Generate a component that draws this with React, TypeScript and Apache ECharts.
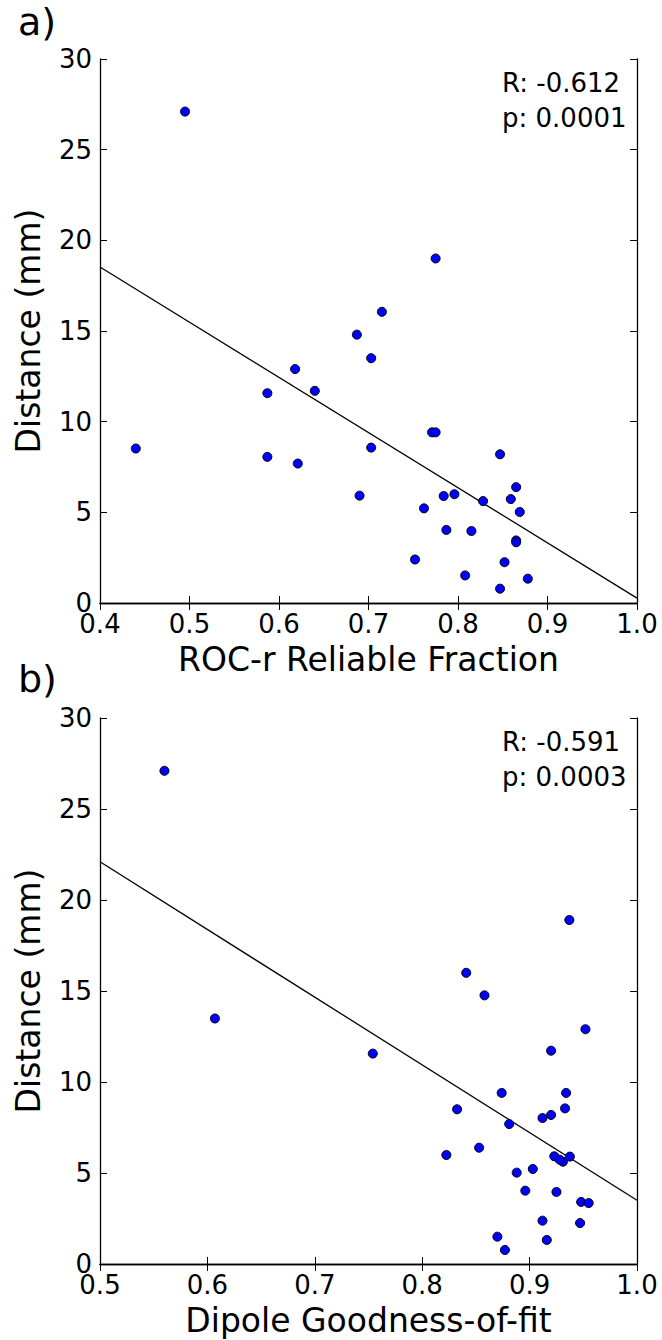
import React, { useEffect, useRef } from "react";
import * as echarts from "echarts";

// Panel a: ROC-r Reliable Fraction vs Distance (mm)
const rocX = [0.495, 0.775, 0.715, 0.687, 0.703, 0.618, 0.64, 0.587, 0.771, 0.775, 0.44, 0.703, 0.587, 0.621, 0.847, 0.865, 0.69, 0.784, 0.796, 0.859, 0.828, 0.762, 0.869, 0.787, 0.815, 0.865, 0.865, 0.752, 0.852, 0.808, 0.878, 0.847];
const rocY = [27.1, 19.0, 16.06, 14.8, 13.5, 12.9, 11.7, 11.57, 9.41, 9.41, 8.52, 8.57, 8.06, 7.69, 8.2, 6.39, 5.92, 5.9, 6.0, 5.73, 5.62, 5.22, 5.02, 4.03, 3.97, 3.45, 3.35, 2.4, 2.25, 1.52, 1.34, 0.79];
const rocFitX = [0.4, 1.0];
const rocFitY = [18.53, 0.27];

// Panel b: Dipole Goodness-of-fit vs Distance (mm)
const gofX = [0.56, 0.937, 0.841, 0.858, 0.607, 0.952, 0.754, 0.92, 0.874, 0.934, 0.8325, 0.933, 0.912, 0.92, 0.881, 0.853, 0.8225, 0.923, 0.931, 0.9375, 0.928, 0.903, 0.888, 0.896, 0.925, 0.948, 0.955, 0.912, 0.947, 0.87, 0.916, 0.877];
const gofY = [27.1, 18.9, 16.0, 14.76, 13.49, 12.9, 11.56, 11.72, 9.4, 9.4, 8.5, 8.55, 8.02, 8.19, 7.69, 6.39, 5.99, 5.92, 5.62, 5.9, 5.73, 5.22, 5.02, 4.03, 3.96, 3.41, 3.35, 2.38, 2.25, 1.5, 1.32, 0.77];
const gofFitX = [0.5, 1.0];
const gofFitY = [22.1, 3.5];

const yTicks = [0, 5, 10, 15, 20, 25, 30];
const statsA = ["R: -0.612", "p: 0.0001"];
const statsB = ["R: -0.591", "p: 0.0003"];
const panelLabels = ["a)", "b)"];
const xNames = ["ROC-r Reliable Fraction", "Dipole Goodness-of-fit"];
const yName = "Distance (mm)";

const FONT = "DejaVu Sans";

function zip(xs: number[], ys: number[]) {
  return xs.map((x, i) => [x, ys[i]]);
}

export default function App() {
  const ref = useRef<HTMLDivElement>(null);
  useEffect(() => {
    if (!ref.current) return;
    const chart = echarts.init(ref.current, undefined, { renderer: "svg" });
    const grids = [
      { left: 100, top: 59, width: 537, height: 544 },
      { left: 100, top: 718, width: 537, height: 546 },
    ];
    const line = { show: true, lineStyle: { color: "#000", width: 1.3 } };
    const tick = { show: true, inside: true, length: 7, lineStyle: { color: "#000", width: 1 } };
    const xRanges = [
      [0.4, 1.0],
      [0.5, 1.0],
    ];
    const xAxes: any[] = [];
    const yAxes: any[] = [];
    [0, 1].forEach((g) => {
      xAxes.push({
        type: "value",
        gridIndex: g,
        position: "bottom",
        min: xRanges[g][0],
        max: xRanges[g][1],
        interval: 0.1,
        axisLine: line,
        axisTick: tick,
        splitLine: { show: false },
        axisLabel: {
          color: "#000",
          fontSize: 26,
          fontFamily: FONT,
          margin: 8,
          formatter: (v: number) => v.toFixed(1),
        },
        name: xNames[g],
        nameLocation: "middle",
        nameGap: 40,
        nameTextStyle: { color: "#000", fontSize: 33, fontFamily: FONT },
      });
      xAxes.push({
        type: "value",
        gridIndex: g,
        position: "top",
        min: xRanges[g][0],
        max: xRanges[g][1],
        interval: 0.1,
        axisLine: line,
        axisTick: tick,
        splitLine: { show: false },
        axisLabel: { show: false },
      });
      yAxes.push({
        type: "value",
        gridIndex: g,
        position: "left",
        min: yTicks[0],
        max: yTicks[yTicks.length - 1],
        interval: yTicks[1] - yTicks[0],
        axisLine: line,
        axisTick: tick,
        splitLine: { show: false },
        axisLabel: { color: "#000", fontSize: 26, fontFamily: FONT, margin: 8 },
        name: yName,
        nameLocation: "middle",
        nameGap: 55,
        nameTextStyle: { color: "#000", fontSize: 33, fontFamily: FONT },
      });
      yAxes.push({
        type: "value",
        gridIndex: g,
        position: "right",
        min: yTicks[0],
        max: yTicks[yTicks.length - 1],
        interval: yTicks[1] - yTicks[0],
        axisLine: line,
        axisTick: tick,
        splitLine: { show: false },
        axisLabel: { show: false },
      });
    });
    const scatterStyle = { color: "#0000ff", borderColor: "#000", borderWidth: 1, opacity: 1 };
    const statText = (lines: string[], top: number) =>
      lines.map((t, i) => ({
        type: "text",
        left: 502,
        top: top + i * 35,
        style: { text: t, fill: "#000", font: `26px "${FONT}"` },
      }));
    chart.setOption({
      animation: false,
      backgroundColor: "#fff",
      grid: grids,
      xAxis: xAxes,
      yAxis: yAxes,
      series: [
        {
          type: "line",
          xAxisIndex: 0,
          yAxisIndex: 0,
          data: zip(rocFitX, rocFitY),
          symbol: "none",
          lineStyle: { color: "#000", width: 1.3 },
          z: 1,
        },
        {
          type: "scatter",
          xAxisIndex: 0,
          yAxisIndex: 0,
          data: zip(rocX, rocY),
          symbolSize: 9,
          itemStyle: scatterStyle,
          z: 2,
        },
        {
          type: "line",
          xAxisIndex: 2,
          yAxisIndex: 2,
          data: zip(gofFitX, gofFitY),
          symbol: "none",
          lineStyle: { color: "#000", width: 1.3 },
          z: 1,
        },
        {
          type: "scatter",
          xAxisIndex: 2,
          yAxisIndex: 2,
          data: zip(gofX, gofY),
          symbolSize: 9,
          itemStyle: scatterStyle,
          z: 2,
        },
      ],
      graphic: [
        {
          type: "text",
          left: 18,
          top: 3,
          style: { text: panelLabels[0], fill: "#000", font: `38px "${FONT}"` },
        },
        {
          type: "text",
          left: 18,
          top: 660,
          style: { text: panelLabels[1], fill: "#000", font: `38px "${FONT}"` },
        },
        ...statText(statsA, 70),
        ...statText(statsB, 729),
      ],
    });
    return () => chart.dispose();
  }, []);
  return (
    <div
      ref={ref}
      style={{ position: "absolute", left: 0, top: 0, width: 662, height: 1340, background: "#fff" }}
    />
  );
}
